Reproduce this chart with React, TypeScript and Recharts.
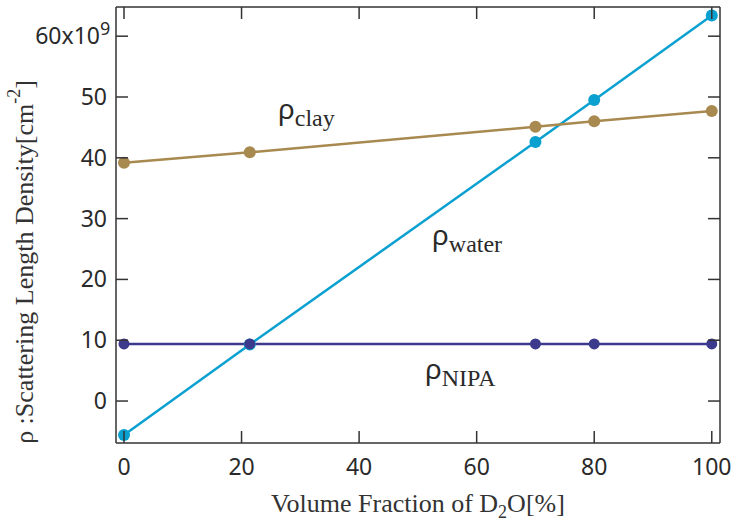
import React from 'react';
import { LineChart, Line, XAxis, YAxis, ReferenceDot } from 'recharts';

// Scattering length densities (x10^9 cm^-2) against D2O volume fraction (%)
const fractionD2O = [0, 21.4, 70, 80, 100];
const rhoWater = [-5.6, 9.3, 42.6, 49.5, 63.4];
const rhoClay = [39.2, 40.9, 45.1, 46.0, 47.7];
const rhoNipa = [9.4, 9.4, 9.4, 9.4, 9.4];

const xTicks = [0, 20, 40, 60, 80, 100];
const yTicks = [0, 10, 20, 30, 40, 50, 60];

// In-plot curve names: anchor point (data units) and subscript
const labelX = [26.2, 52.4, 51.2];
const labelY = [46.3, 25.6, 3.6];
const labelSub = ['clay', 'water', 'NIPA'];

const WATER = '#0aa0d0';
const CLAY = '#a8894f';
const NIPA = '#3c3a8c';
const FRAME = '#333333';
const TEXT = '#2a2a2a';
const SANS = '"Noto Sans", "DejaVu Sans", sans-serif';
const SERIF = '"Liberation Serif", "Times New Roman", serif';
const TICK_LEN = 12;

const data = fractionD2O.map((x, i) => ({
  x,
  water: rhoWater[i],
  clay: rhoClay[i],
  nipa: rhoNipa[i],
}));

// ---------------------------------------------------------------------------
// Tick renderers (inward ticks, mirrored on top/right)
// ---------------------------------------------------------------------------

function BottomTick({ x, y, payload }: any) {
  return (
    <g>
      <line x1={x} x2={x} y1={y} y2={y - TICK_LEN} stroke={FRAME} strokeWidth={1.5} />
      <text x={x} y={y + 32} textAnchor="middle" fill={TEXT} fontFamily={SANS} fontSize={23}>
        {payload.value}
      </text>
    </g>
  );
}

function TopTick({ x, y }: any) {
  return <line x1={x} x2={x} y1={y} y2={y + TICK_LEN} stroke={FRAME} strokeWidth={1.5} />;
}

function LeftTick({ x, y, payload }: any) {
  const isTop = payload.value === 60;
  return (
    <g>
      <line x1={x} x2={x + TICK_LEN} y1={y} y2={y} stroke={FRAME} strokeWidth={1.5} />
      <text
        x={isTop ? x - 16 : x - 9}
        y={y + 8}
        textAnchor="end"
        fill={TEXT}
        fontFamily={SANS}
        fontSize={23}
      >
        {isTop ? '60x10' : payload.value}
      </text>
      {isTop && (
        <text x={x - 16} y={y - 1} textAnchor="start" fill={TEXT} fontFamily={SANS} fontSize={18}>
          9
        </text>
      )}
    </g>
  );
}

function RightTick({ x, y }: any) {
  return <line x1={x} x2={x - TICK_LEN} y1={y} y2={y} stroke={FRAME} strokeWidth={1.5} />;
}

// ---------------------------------------------------------------------------
// Axis titles and curve names
// ---------------------------------------------------------------------------

function XTitle({ viewBox }: any) {
  const cx = viewBox.x + viewBox.width / 2;
  return (
    <text x={cx} y={viewBox.y + 69} textAnchor="middle" fill={FRAME} fontFamily={SERIF} fontSize={26}>
      Volume Fraction of D
      <tspan fontSize={18} dy={6}>2</tspan>
      <tspan dy={-6}>O[%]</tspan>
    </text>
  );
}

function YTitle() {
  const cx = 24;
  const cy = 262;
  return (
    <text
      x={cx}
      y={cy}
      transform={`rotate(-90 ${cx} ${cy})`}
      textAnchor="middle"
      dominantBaseline="central"
      fill={FRAME}
      fontFamily={SERIF}
      fontSize={26}
    >
      ρ :Scattering Length Density[cm
      <tspan fontSize={18} dy={-10}>-2</tspan>
      <tspan dy={10}>]</tspan>
    </text>
  );
}

function CurveName({ cx, cy, sub }: any) {
  return (
    <text x={cx} y={cy} fill={TEXT}>
      <tspan fontFamily={SANS} fontSize={28}>ρ</tspan>
      <tspan fontFamily={SERIF} fontSize={24} dy={7}>{sub}</tspan>
    </text>
  );
}

export default function App() {
  return (
    <div style={{ position: 'absolute', left: 0, top: 0 }}>
      <LineChart
        width={737}
        height={526}
        data={data}
        margin={{ top: 6, right: 16, left: 0, bottom: 0 }}
      >
        <XAxis
          dataKey="x"
          type="number"
          domain={[-1.36, 101.4]}
          ticks={xTicks}
          height={83}
          tickSize={0}
          tickMargin={0}
          tickLine={false}
          axisLine={{ stroke: FRAME, strokeWidth: 1.5 }}
          tick={<BottomTick />}
          allowDataOverflow
          label={<XTitle />}
        />
        <XAxis
          xAxisId="top"
          orientation="top"
          dataKey="x"
          type="number"
          domain={[-1.36, 101.4]}
          ticks={xTicks}
          height={1}
          tickSize={0}
          tickMargin={0}
          tickLine={false}
          axisLine={{ stroke: FRAME, strokeWidth: 1.5 }}
          tick={<TopTick />}
          allowDataOverflow
        />
        <YAxis
          type="number"
          domain={[-6.9, 64.8]}
          ticks={yTicks}
          width={116}
          tickSize={0}
          tickMargin={0}
          tickLine={false}
          axisLine={{ stroke: FRAME, strokeWidth: 1.5 }}
          tick={<LeftTick />}
          allowDataOverflow
          label={<YTitle />}
        />
        <YAxis
          yAxisId="right"
          orientation="right"
          type="number"
          domain={[-6.9, 64.8]}
          ticks={yTicks}
          width={1}
          tickSize={0}
          tickMargin={0}
          tickLine={false}
          axisLine={{ stroke: FRAME, strokeWidth: 1.5 }}
          tick={<RightTick />}
          allowDataOverflow
        />
        <Line
          dataKey="water"
          stroke={WATER}
          strokeWidth={2.5}
          dot={{ r: 6, fill: WATER, stroke: 'none' }}
          isAnimationActive={false}
        />
        <Line
          dataKey="clay"
          stroke={CLAY}
          strokeWidth={2.5}
          dot={{ r: 6, fill: CLAY, stroke: 'none' }}
          isAnimationActive={false}
        />
        <Line
          dataKey="nipa"
          stroke={NIPA}
          strokeWidth={2.5}
          dot={{ r: 5.5, fill: NIPA, stroke: 'none' }}
          isAnimationActive={false}
        />
        {labelSub.map((sub, i) => (
          <ReferenceDot
            key={sub}
            x={labelX[i]}
            y={labelY[i]}
            r={0}
            shape={(p: any) => <CurveName cx={p.cx} cy={p.cy} sub={sub} />}
          />
        ))}
      </LineChart>
    </div>
  );
}
